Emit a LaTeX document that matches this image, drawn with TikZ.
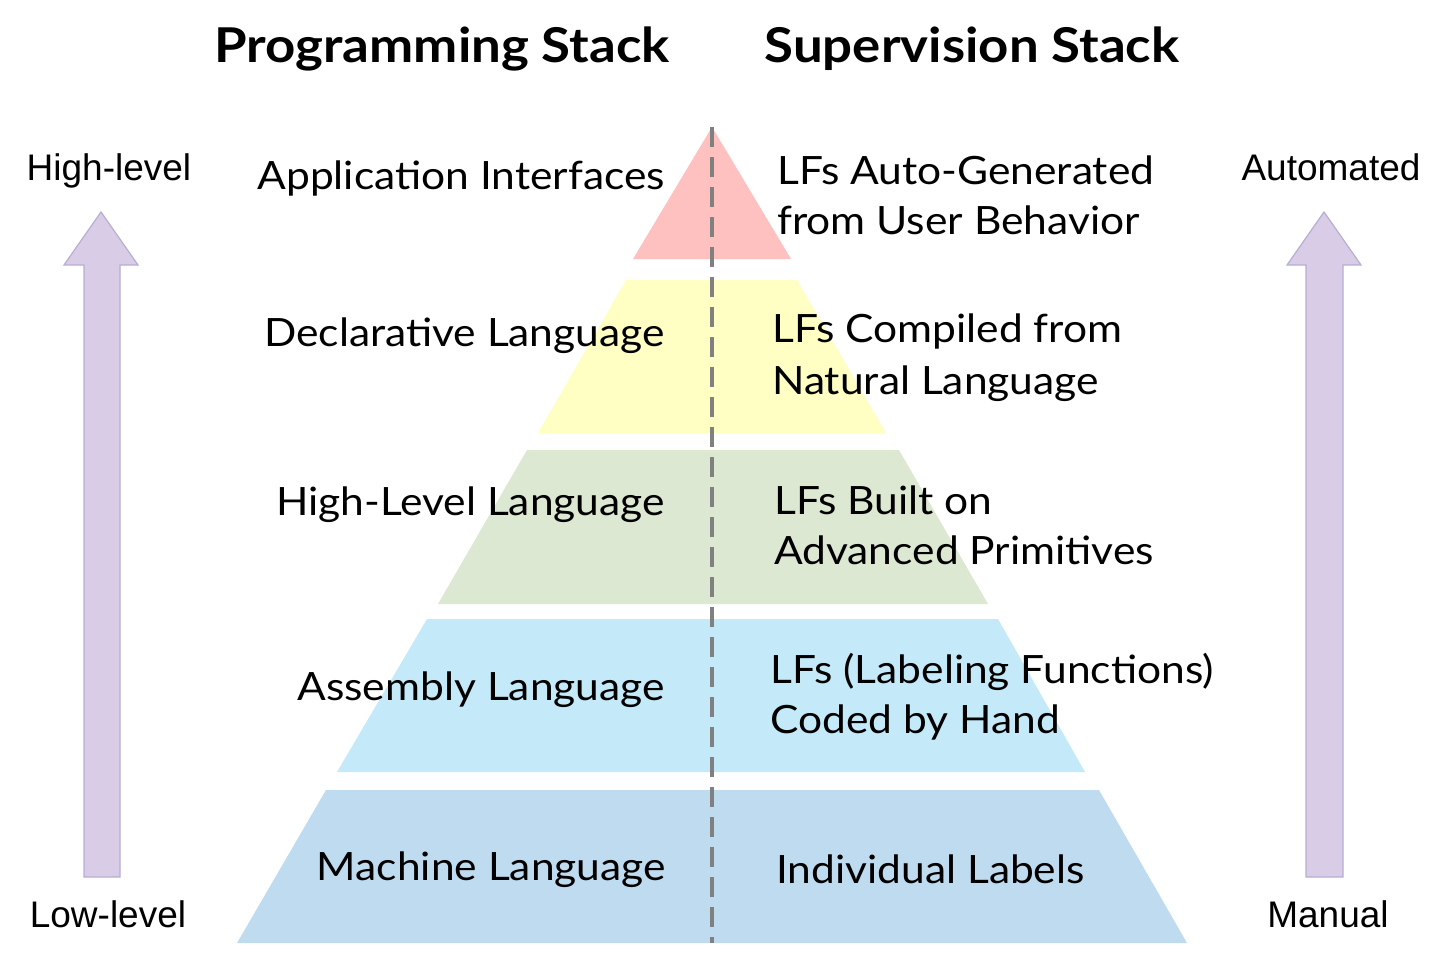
\documentclass[tikz,border=0pt]{standalone}
\usepackage{fontspec}
\setmainfont{Lato}
\newfontfamily\bodyf[FakeStretch=1.09]{Lato}
\newfontfamily\titlef[FakeStretch=1.10]{Lato}
\newfontfamily\arialf{Liberation Sans}
\definecolor{cpink}{RGB}{255,192,192}
\definecolor{cyel}{RGB}{255,255,196}
\definecolor{cgreen}{RGB}{221,232,210}
\definecolor{ccyan}{RGB}{196,234,249}
\definecolor{cblue}{RGB}{191,219,239}
\definecolor{carrow}{RGB}{217,204,230}
\definecolor{carrowb}{RGB}{184,174,212}
\definecolor{cdash}{RGB}{128,128,128}
\tikzset{
  layer/.style={fill=#1, draw=none},
  bigarrow/.style={fill=carrow, draw=carrowb, line width=1.2pt, line join=miter},
  lefttxt/.style={anchor=base east, inner sep=0pt, font=\bodyf\fontsize{39}{39}\selectfont},
  righttxt/.style={anchor=base west, inner sep=0pt, font=\bodyf\fontsize{39}{39}\selectfont},
  titletxt/.style={anchor=base, inner sep=0pt, font=\titlef\fontsize{48}{48}\selectfont\bfseries},
  sidetxt/.style={anchor=base, inner sep=0pt, font=\arialf\fontsize{37}{37}\selectfont},
  divider/.style={draw=cdash, line width=3.6pt, dash pattern=on 20pt off 10pt}
}
\begin{document}
\begin{tikzpicture}[x=1pt,y=-1pt]
\path[use as bounding box, fill=white] (0,0) rectangle (1445,958);
% pyramid layers
\path[layer=cpink]  (712,127) -- (791,259) -- (633,259) -- cycle;
\path[layer=cyel]   (626,280) -- (797,280) -- (886,433) -- (538,433) -- cycle;
\path[layer=cgreen] (527,450) -- (899,450) -- (988,604) -- (438,604) -- cycle;
\path[layer=ccyan]  (427,619) -- (998,619) -- (1085,772) -- (337,772) -- cycle;
\path[layer=cblue]  (326,790) -- (1099,790) -- (1187,943) -- (237,943) -- cycle;
% divider
\coordinate (dtop) at (712,127);
\coordinate (dbot) at (712,943);
\draw[divider] (dtop) -- (dbot);
% side arrows
\draw[bigarrow] (84,877) -- (84,265) -- (64,265) -- (101,212) -- (138,265) -- (120,265) -- (120,877) -- cycle;
\draw[bigarrow] (1306,877) -- (1306,265) -- (1287,265) -- (1324,212) -- (1361,265) -- (1343,265) -- (1343,877) -- cycle;
% titles
\node[titletxt] (tprog) at (442,63) {Programming Stack};
\node[titletxt] (tsup) at (972,63) {Supervision Stack};
% side labels
\node[sidetxt] (hl) at (109,180) {High-level};
\node[sidetxt] (ll) at (108,927) {Low-level};
\node[sidetxt] (au) at (1331,180) {Automated};
\node[sidetxt] (ma) at (1328,927) {Manual};
% left texts
\node[lefttxt] (p1) at (665,189) {Application Interfaces};
\node[lefttxt] (p2) at (665,346) {Declarative Language};
\node[lefttxt] (p3) at (665,515) {High-Level Language};
\node[lefttxt] (p4) at (665,700) {Assembly Language};
\node[lefttxt] (p5) at (666,880) {Machine Language};
% right texts
\node[righttxt] (s1a) at (777,184) {LFs Auto-Generated};
\node[righttxt] (s1b) at (777,234) {from User Behavior};
\node[righttxt] (s2a) at (772,342) {LFs Compiled from};
\node[righttxt] (s2b) at (772,394) {Natural Language};
\node[righttxt] (s3a) at (774,514) {LFs Built on};
\node[righttxt] (s3b) at (774,564) {Advanced Primitives};
\node[righttxt] (s4a) at (770,683) {LFs (Labeling Functions)};
\node[righttxt] (s4b) at (770,733) {Coded by Hand};
\node[righttxt] (s5) at (776,883) {Individual Labels};
\end{tikzpicture}
\end{document}
